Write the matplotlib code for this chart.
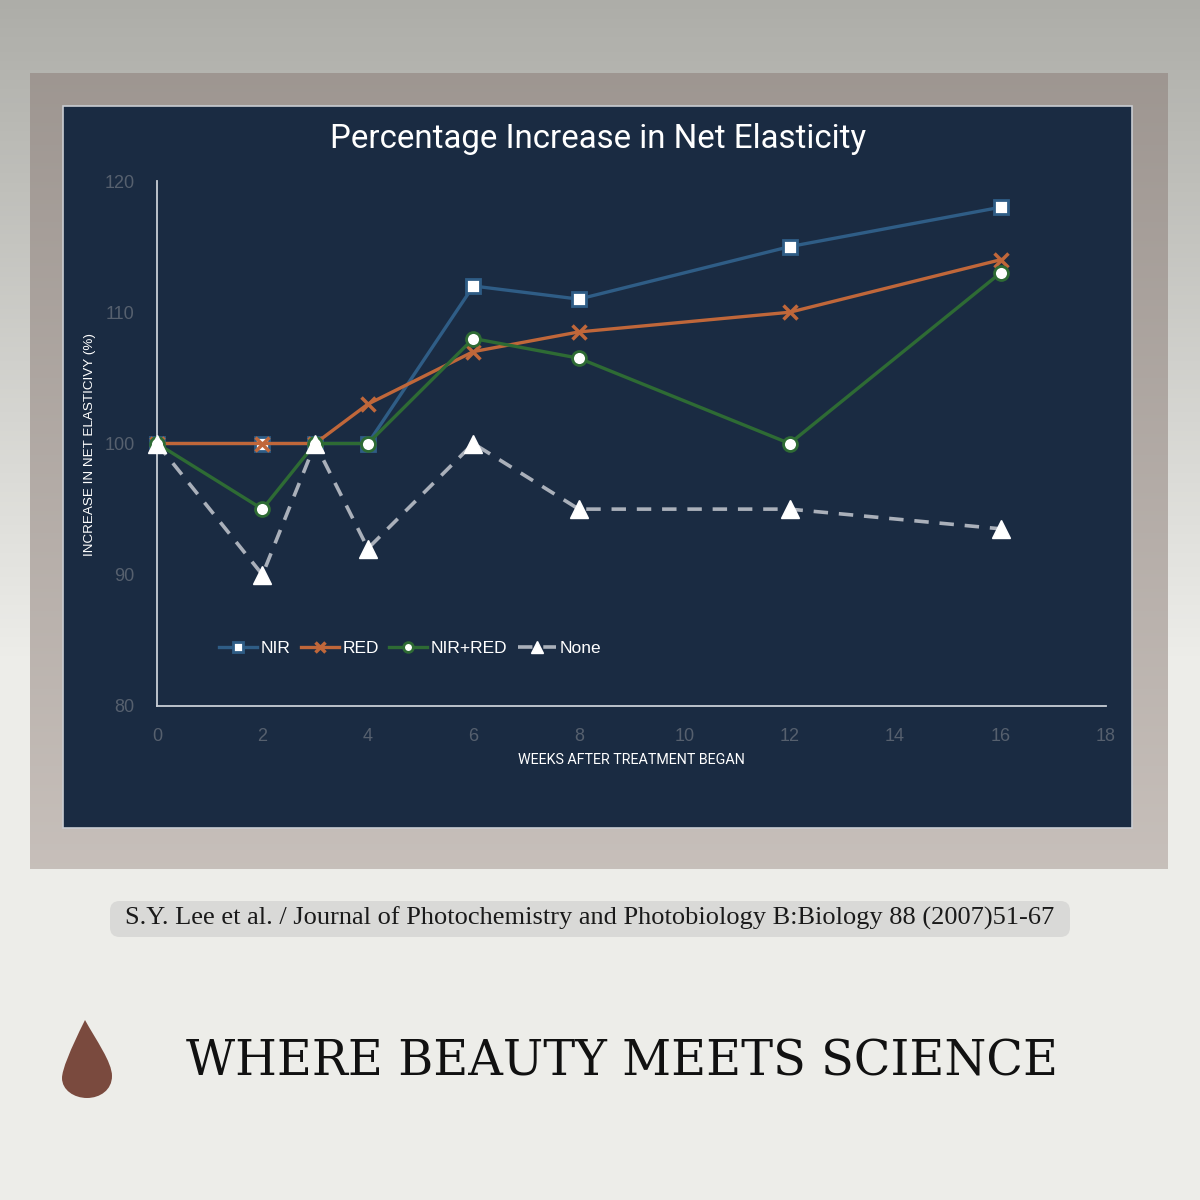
import matplotlib.pyplot as plt
import numpy as np
from matplotlib.patches import FancyBboxPatch, Rectangle, PathPatch
from matplotlib.path import Path

# data
weeks = [0, 2, 3, 4, 6, 8, 12, 16]
nir = [100, 100, 100, 100, 112, 111, 115, 118]
red = [100, 100, 100, 103, 107, 108.5, 110, 114]
nir_red = [100, 95, 100, 100, 108, 106.5, 100, 113]
none = [100, 90, 100, 92, 100, 95, 95, 93.5]

title = 'Percentage Increase in Net Elasticity'
xlabel = 'WEEKS AFTER TREATMENT BEGAN'
ylabel = 'INCREASE IN NET ELASTICIVY (%)'
citation = 'S.Y. Lee et al. / Journal of Photochemistry and Photobiology B:Biology 88 (2007)51-67'
tagline = 'WHERE BEAUTY MEETS SCIENCE'

W, H = 1200, 1200
fig = plt.figure(figsize=(12, 12), dpi=100)


def fx(px):
    return px / W


def fy(py):
    return 1 - py / H


# page background, light vertical gradient
bg = fig.add_axes([0, 0, 1, 1])
bg.set_axis_off()
grad = np.linspace(0, 1, 256).reshape(-1, 1)
c_top = np.array([0.68, 0.68, 0.66])
c_bot = np.array([0.93, 0.93, 0.915])
t = np.clip(grad / 0.55, 0, 1)
img = c_top + (c_bot - c_top) * t
bg.imshow(img.reshape(256, 1, 3), aspect='auto', extent=[0, 1, 0, 1], origin='upper')
bg.set_xlim(0, 1)
bg.set_ylim(0, 1)

# taupe frame
g2 = np.linspace(0, 1, 256).reshape(-1, 1)
f_top = np.array([0.62, 0.59, 0.57])
f_bot = np.array([0.78, 0.75, 0.73])
fimg = f_top + (f_bot - f_top) * g2
bg.imshow(fimg.reshape(256, 1, 3), aspect='auto',
          extent=[fx(30), fx(1168), fy(869), fy(73)], origin='upper', zorder=1)

# navy panel
bg.add_patch(Rectangle((fx(63), fy(828)), fx(1132) - fx(63), fy(106) - fy(828),
                       facecolor='#1a2b42', edgecolor='#c9ccd2', linewidth=1.2, zorder=2))

# citation box
bg.add_patch(FancyBboxPatch((fx(110), fy(937)), fx(1070) - fx(110), fy(901) - fy(937),
                            boxstyle='round,pad=0,rounding_size=0.008',
                            facecolor='#d9d9d7', edgecolor='none', zorder=2))
bg.text(fx(590), fy(918), citation, ha='center', va='center', fontsize=19,
        family='Liberation Serif', color='#1a1a1a', zorder=3)

# tagline
bg.text(fx(622), fy(1062), tagline, ha='center', va='center', fontsize=34.5,
        family='DejaVu Serif', color='#111111', zorder=3)

# simple drop logo
verts = [(fx(85), fy(1020)), (fx(70), fy(1050)), (fx(62), fy(1070)), (fx(62), fy(1078)),
         (fx(62), fy(1090)), (fx(74), fy(1098)), (fx(87), fy(1098)),
         (fx(100), fy(1098)), (fx(112), fy(1090)), (fx(112), fy(1076)),
         (fx(112), fy(1062)), (fx(96), fy(1040)), (fx(85), fy(1020))]
codes = [Path.MOVETO, Path.CURVE4, Path.CURVE4, Path.CURVE4,
         Path.CURVE4, Path.CURVE4, Path.CURVE4,
         Path.CURVE4, Path.CURVE4, Path.CURVE4,
         Path.CURVE4, Path.CURVE4, Path.CURVE4]
bg.add_patch(PathPatch(Path(verts, codes), facecolor='#7a4a3e', edgecolor='none', zorder=3))

# main chart axes
ax = fig.add_axes([fx(157), fy(706), fx(1106) - fx(157), fy(181) - fy(706)])
ax.set_facecolor('none')
ax.set_xlim(0, 18)
ax.set_ylim(80, 120)
ax.set_xticks(range(0, 19, 2))
ax.set_yticks(range(80, 121, 10))
for s in ['top', 'right']:
    ax.spines[s].set_visible(False)
for s in ['left', 'bottom']:
    ax.spines[s].set_color('#c9ced6')
    ax.spines[s].set_linewidth(1.3)
ax.tick_params(length=0, labelsize=13, colors='#56606e', pad=16)
for lab in ax.get_xticklabels() + ax.get_yticklabels():
    lab.set_family('Liberation Sans')

ax.plot(weeks, nir, color='#2f5d86', lw=2.4, marker='s', ms=10,
        mfc='white', mec='#2f5d86', mew=2, label='NIR', zorder=3, clip_on=False)
ax.plot(weeks, red, color='#c0673a', lw=2.4, marker='x', ms=10,
        mec='#c0673a', mew=2.5, label='RED', zorder=4, clip_on=False)
ax.plot(weeks, nir_red, color='#2e6b34', lw=2.4, marker='o', ms=10,
        mfc='white', mec='#2e6b34', mew=2, label='NIR+RED', zorder=5, clip_on=False)
ax.plot(weeks, none, color='#aab0ba', lw=2.6, ls=(0, (4, 3)), marker='^', ms=13,
        mfc='white', mec='white', label='None', zorder=6, clip_on=False)

leg = ax.legend(loc='center left', bbox_to_anchor=(fx(203), fy(648)),
                bbox_transform=fig.transFigure, ncol=4, frameon=False,
                handlelength=2.2, handletextpad=0.2, columnspacing=0.6,
                markerscale=0.7, prop={'family': 'Liberation Sans', 'size': 12.5})
for txt in leg.get_texts():
    txt.set_color('white')

fig.text(fx(598), fy(139), title, ha='center', va='center', fontsize=23.8,
         family='Roboto', color='white')
fig.text(fx(631), fy(760), xlabel, ha='center', va='center', fontsize=10.3,
         family='Roboto', color='white')
fig.text(fx(90), fy(445), ylabel, ha='center', va='center', fontsize=9.7,
         family='Liberation Sans', color='white', rotation=90)

fig.savefig('out.png', dpi=100)
